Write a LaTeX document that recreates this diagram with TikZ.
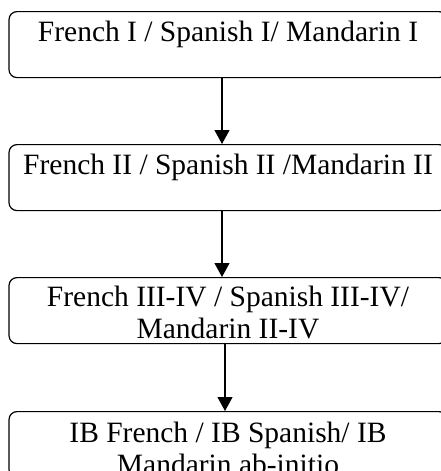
\documentclass[tikz,border=0pt]{standalone}
\usepackage{fontspec}
\setmainfont{Liberation Serif}
\usetikzlibrary{arrows.meta}
\begin{document}
\begin{tikzpicture}[x=1pt,y=1pt,
  box/.style={draw, line width=1.2pt, rounded corners=8pt, minimum width=438pt, minimum height=66pt, inner sep=0pt, anchor=north},
  lbl/.style={inner sep=0pt, align=center, font=\fontsize{29.5}{32}\selectfont, anchor=base},
  arr/.style={line width=1.2pt, -{Triangle[length=14pt,width=15pt]}}]
\useasboundingbox (0,0) rectangle (441,-471);
\node[box] (b1) at (228,-11) {};
\node[box] (b2) at (228,-144) {};
\node[box] (b3) at (228,-277) {};
\node[box] (b4) at (228,-411) {};
\node[lbl] (t1) at (228,-41) {French I / Spanish I/ Mandarin I};
\node[lbl] (t2) at (228,-174) {French II / Spanish II /Mandarin II};
\node[lbl] (t3) at (228,-338) {French III-IV / Spanish III-IV/\\Mandarin II-IV};
\node[lbl] (t4) at (228,-474) {IB French / IB Spanish/ IB\\Mandarin ab-initio};
\coordinate (ax) at (222,0);
\coordinate (bx) at (225,0);
\draw[arr] (b1.south -| ax) -- (b2.north -| ax);
\draw[arr] (b2.south -| ax) -- (b3.north -| ax);
\draw[arr] (b3.south -| bx) -- (b4.north -| bx);
\end{tikzpicture}
\end{document}
